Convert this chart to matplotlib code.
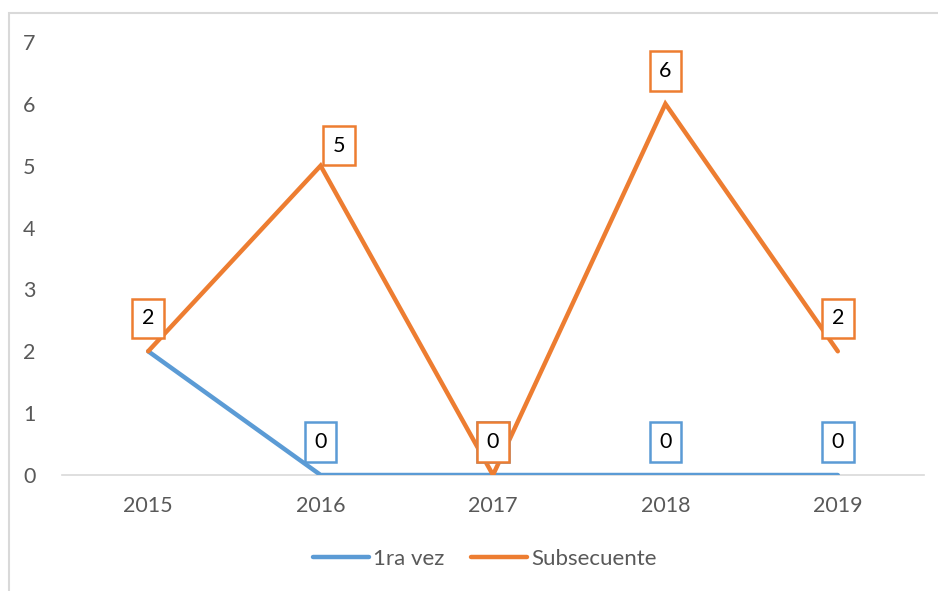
import matplotlib.pyplot as plt
from matplotlib.patches import Rectangle

years = ["2015", "2016", "2017", "2018", "2019"]
primera = [2, 0, 0, 0, 0]
subsecuente = [2, 5, 0, 6, 2]

blue = "#5B9BD5"
orange = "#ED7D31"
grey_txt = "#595959"

plt.rcParams['font.family'] = ['Lato', 'DejaVu Sans']

fig = plt.figure(figsize=(9.38, 5.91), dpi=100)
ax = fig.add_axes([62/938, 1 - 475/591, (924 - 62)/938, (475 - 42)/591])

x = list(range(len(years)))
ax.plot(x, primera, color=blue, lw=3.2, solid_capstyle='round', solid_joinstyle='miter', label="1ra vez", zorder=3)
ax.plot(x, subsecuente, color=orange, lw=3.2, solid_capstyle='round', solid_joinstyle='miter', label="Subsecuente", zorder=4)

ax.set_xlim(-0.5, 4.5)
ax.set_ylim(0, 7)
ax.set_xticks(x)
ax.set_xticklabels(years)
ax.set_yticks(range(8))
for s in ["top", "right", "left"]:
    ax.spines[s].set_visible(False)
ax.spines["bottom"].set_color("#D9D9D9")
ax.spines["bottom"].set_linewidth(1.2)
ax.tick_params(length=0, labelsize=15.5, labelcolor=grey_txt)
ax.tick_params(axis='y', pad=19)
ax.tick_params(axis='x', pad=15)

# label offsets in pixels (dx, dy)
off_blue = [(0, 33)] * 5
off_orange = [(0, 33), (18, 20), (0, 33), (0, 33), (0, 33)]

def label(xi, yi, off, col):
    ax.annotate(str(yi), (xi, yi), xytext=off, textcoords='offset pixels',
                ha='center', va='center', fontsize=15.5, color='black', zorder=6,
                bbox=dict(boxstyle='square,pad=0.45', fc='white', ec=col, lw=1.8),
                annotation_clip=False)

for i in range(1, len(years)):
    label(i, primera[i], off_blue[i], blue)
for i in range(len(years)):
    label(i, subsecuente[i], off_orange[i], orange)

fig.legend(loc='center', bbox_to_anchor=(485/938, 1 - 559/591), ncol=2, frameon=False,
           fontsize=16, labelcolor=grey_txt, handlelength=2.5, handletextpad=0.2,
           columnspacing=1.2)

fig.patches.append(Rectangle((9/938, -0.1), 1.2, 1 - 13/591 + 0.1, transform=fig.transFigure,
                             fill=False, ec="#D9D9D9", lw=1.5))

fig.savefig("out.png", dpi=100)
